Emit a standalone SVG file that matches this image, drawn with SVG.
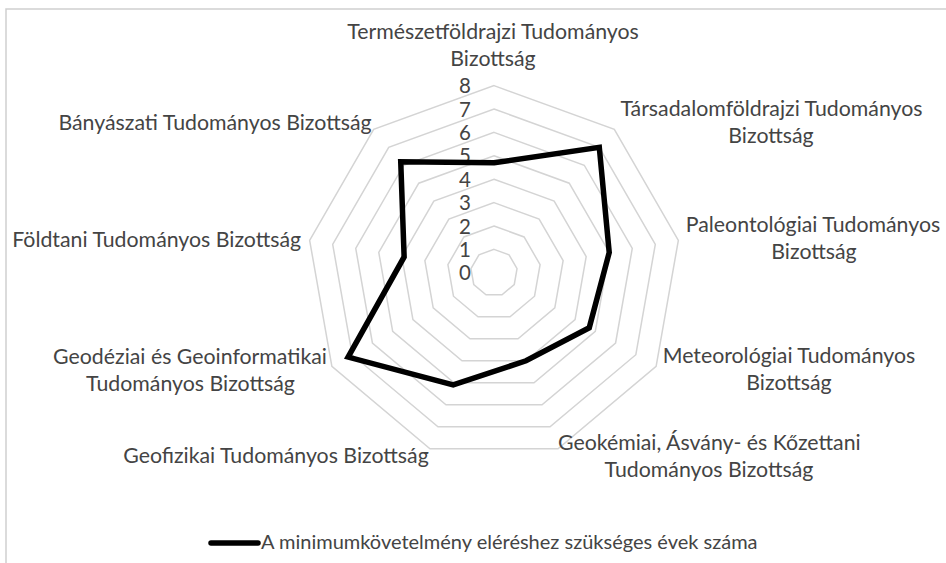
<svg xmlns="http://www.w3.org/2000/svg" width="946" height="563" viewBox="0 0 946 563">
<style>
.grid{fill:none;stroke:#d4d4d4;stroke-width:1.5}
.lbl{font-family:Lato,"Liberation Sans",sans-serif;font-size:21.3px;fill:#444;text-anchor:middle}
.num{font-family:Lato,"Liberation Sans",sans-serif;font-size:20.5px;fill:#444;text-anchor:middle}
.data{fill:none;stroke:#000;stroke-width:5.5;stroke-linejoin:miter}
</style>
<rect x="0" y="0" width="946" height="563" fill="#fff"/>
<path d="M6,563 V9 H946" fill="none" stroke="#cfcfcf" stroke-width="1.5"/>
<g id="grid">
<polygon class="grid" points="494,249.4 509.04,254.88 517.04,268.74 514.26,284.5 502,294.79 486,294.79 473.74,284.5 470.96,268.74 478.96,254.88"/>
<polygon class="grid" points="494,226 524.08,236.95 540.09,264.68 534.53,296.2 510.01,316.78 477.99,316.78 453.47,296.2 447.91,264.68 463.92,236.95"/>
<polygon class="grid" points="494,202.6 539.12,219.03 563.13,260.61 554.79,307.9 518.01,338.77 469.99,338.77 433.21,307.9 424.87,260.61 448.88,219.03"/>
<polygon class="grid" points="494,179.2 554.17,201.1 586.18,256.55 575.06,319.6 526.01,360.76 461.99,360.76 412.94,319.6 401.82,256.55 433.83,201.1"/>
<polygon class="grid" points="494,155.8 569.21,183.18 609.22,252.49 595.32,331.3 534.01,382.74 453.99,382.74 392.68,331.3 378.78,252.49 418.79,183.18"/>
<polygon class="grid" points="494,132.4 584.25,165.25 632.27,248.43 615.59,343 542.02,404.73 445.98,404.73 372.41,343 355.73,248.43 403.75,165.25"/>
<polygon class="grid" points="494,109 599.29,147.33 655.31,244.36 635.85,354.7 550.02,426.72 437.98,426.72 352.15,354.7 332.69,244.36 388.71,147.33"/>
<polygon class="grid" points="494,85.6 614.33,129.4 678.35,240.3 656.12,366.4 558.02,448.71 429.98,448.71 331.88,366.4 309.65,240.3 373.67,129.4"/>
</g>
<g id="axis-values">
<text class="num" x="465" y="280.3">0</text>
<text class="num" x="465" y="256.9">1</text>
<text class="num" x="465" y="233.5">2</text>
<text class="num" x="465" y="210.1">3</text>
<text class="num" x="465" y="186.7">4</text>
<text class="num" x="465" y="163.3">5</text>
<text class="num" x="465" y="139.9">6</text>
<text class="num" x="465" y="116.5">7</text>
<text class="num" x="465" y="93.1">8</text>
</g>
<g id="connectors">
<polygon id="series" class="data" points="494,162.82 599.29,147.33 609.22,252.49 589.24,327.79 526.01,360.76 453.19,384.94 348.1,357.04 404.13,256.96 400.74,161.67"/>
</g>
<g id="label-termeszetfoldrajzi"><text class="lbl" x="493" y="39">Természetföldrajzi Tudományos</text><text class="lbl" x="493" y="65.5">Bizottság</text></g>
<g id="label-tarsadalomfoldrajzi"><text class="lbl" x="771.5" y="115.5">Társadalomföldrajzi Tudományos</text><text class="lbl" x="771" y="142.5">Bizottság</text></g>
<g id="label-paleontologiai"><text class="lbl" x="813" y="232">Paleontológiai Tudományos</text><text class="lbl" x="814" y="258.5">Bizottság</text></g>
<g id="label-meteorologiai"><text class="lbl" x="789" y="363.3">Meteorológiai Tudományos</text><text class="lbl" x="789" y="390">Bizottság</text></g>
<g id="label-geokemiai"><text class="lbl" x="709.3" y="450">Geokémiai, Ásvány- és Kőzettani</text><text class="lbl" x="709" y="476.7">Tudományos Bizottság</text></g>
<g id="label-geofizikai"><text class="lbl" x="276" y="463.3">Geofizikai Tudományos Bizottság</text></g>
<g id="label-geodeziai"><text class="lbl" x="190" y="363.5">Geodéziai és Geoinformatikai</text><text class="lbl" x="190.5" y="390.5">Tudományos Bizottság</text></g>
<g id="label-foldtani"><text class="lbl" x="156.7" y="246.7">Földtani Tudományos Bizottság</text></g>
<g id="label-banyaszati"><text class="lbl" x="215" y="130">Bányászati Tudományos Bizottság</text></g>
<g id="legend">
<line x1="211" y1="543" x2="258" y2="543" stroke="#000" stroke-width="5.5" stroke-linecap="round"/>
<text x="261" y="549" font-family="Lato,'Liberation Sans',sans-serif" font-size="20" fill="#444">A minimumkövetelmény eléréshez szükséges évek száma</text>
</g>
</svg>
